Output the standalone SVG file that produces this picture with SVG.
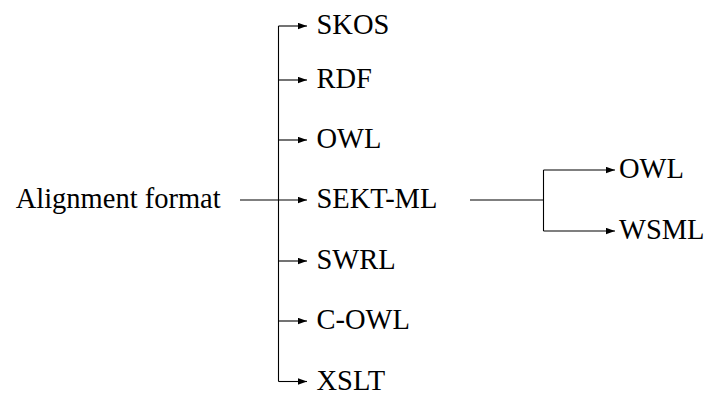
<svg xmlns="http://www.w3.org/2000/svg" width="708" height="397" viewBox="0 0 708 397">
<style>
.c{fill:none;stroke:#000;stroke-width:1.1}
text{font-family:'Liberation Serif','Times New Roman',serif;font-size:28.5px;fill:#000}
</style>
<defs>
<marker id="ah" markerWidth="10" markerHeight="7" refX="9" refY="3.5" orient="auto" markerUnits="userSpaceOnUse">
<path d="M0,0.3 L9,3.5 L0,6.7 Z" fill="#000"/>
</marker>
</defs>
<rect width="708" height="397" fill="#fff"/>
<g id="connectors">
<path class="c" d="M278.5,26 V381.5"/>
<path class="c" d="M240,200 H307" marker-end="url(#ah)"/>
<path class="c" d="M278.5,26 H307" marker-end="url(#ah)"/>
<path class="c" d="M278.5,80 H307" marker-end="url(#ah)"/>
<path class="c" d="M278.5,140 H307" marker-end="url(#ah)"/>
<path class="c" d="M278.5,261 H307" marker-end="url(#ah)"/>
<path class="c" d="M278.5,321 H307" marker-end="url(#ah)"/>
<path class="c" d="M278.5,381.5 H307" marker-end="url(#ah)"/>
<path class="c" d="M470,200 H543.5"/>
<path class="c" d="M543.5,170 V231"/>
<path class="c" d="M543.5,170 H615" marker-end="url(#ah)"/>
<path class="c" d="M543.5,231 H615" marker-end="url(#ah)"/>
</g>
<g id="nodes">
<g id="alignment-format"><text x="15.7" y="208">Alignment format</text></g>
<g id="skos"><text x="316.5" y="34">SKOS</text></g>
<g id="rdf"><text x="316.5" y="88">RDF</text></g>
<g id="owl"><text x="316.5" y="148">OWL</text></g>
<g id="sekt-ml"><text x="316.5" y="208">SEKT-ML</text></g>
<g id="swrl"><text x="316.5" y="269">SWRL</text></g>
<g id="c-owl"><text x="316.5" y="329">C-OWL</text></g>
<g id="xslt"><text x="316.5" y="389.5">XSLT</text></g>
<g id="owl2"><text x="619" y="178">OWL</text></g>
<g id="wsml"><text x="619" y="239">WSML</text></g>
</g>
</svg>
